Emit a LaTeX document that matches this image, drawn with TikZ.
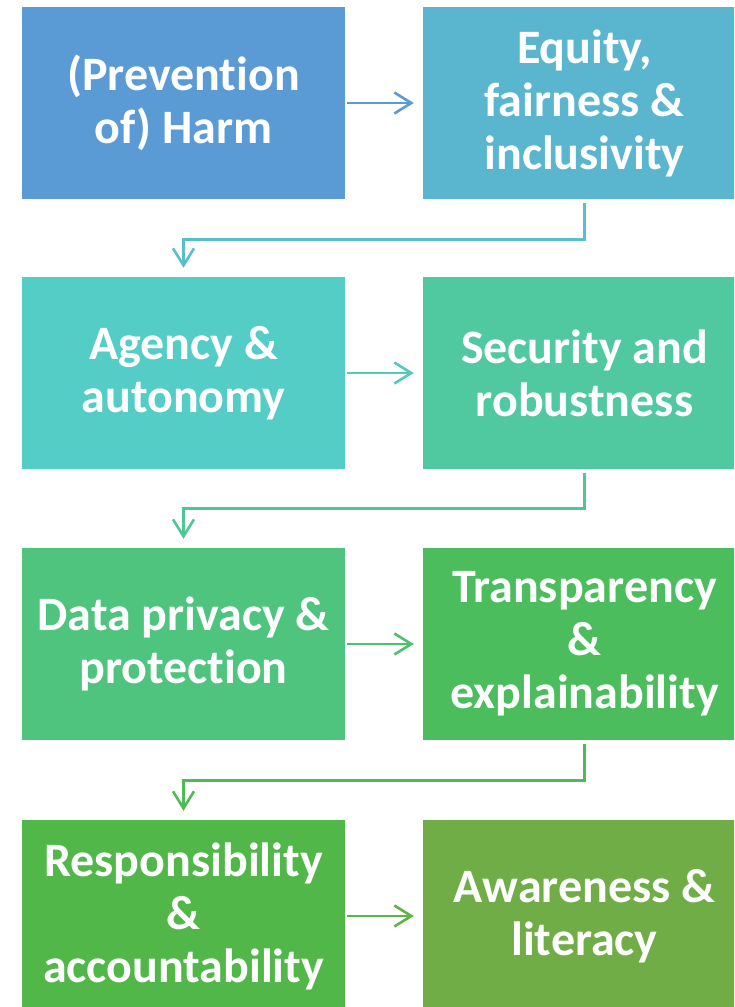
\documentclass[tikz,border=0pt]{standalone}
\usepackage{fontspec}
\setmainfont{Carlito}[RawFeature={-liga;-clig;-dlig;-calt}]
\usetikzlibrary{arrows.meta,calc}

\definecolor{cA}{HTML}{5B9BD5}
\definecolor{cB}{HTML}{5AB6CF}
\definecolor{cC}{HTML}{54CDC6}
\definecolor{cD}{HTML}{50C8A0}
\definecolor{cE}{HTML}{4EC47F}
\definecolor{cF}{HTML}{4CBD5C}
\definecolor{cG}{HTML}{52B749}
\definecolor{cH}{HTML}{70AD47}

\tikzset{
  card/.style={fill=#1, draw=none, minimum width=323pt, minimum height=192pt,
    inner sep=0pt, text=white, align=center,
    font=\fontsize{48}{53}\selectfont\bfseries},
  flow/.style={draw=#1, line width=2.6pt,
    -{Straight Barb[length=17pt,width=21pt,line width=2.6pt]}},
}

\begin{document}
\begin{tikzpicture}[x=1pt,y=-1pt]
\useasboundingbox (0,0) rectangle (734,1007);
\clip (0,0) rectangle (734,1007);

% left column centred at x=183.5, right column at x=584.5
\node[card=cA] (l1) at (183.5,103) {(Prevention\\of) Harm};
\node[card=cB] (r1) at (584.5,103) {Equity,\\fairness \&\\inclusivity};
\node[card=cC] (l2) at (183.5,373) {Agency \&\\autonomy};
\node[card=cD] (r2) at (584.5,373) {Security and\\robustness};
\node[card=cE] (l3) at (183.5,644) {Data privacy \&\\protection};
\node[card=cF] (r3) at (584.5,644) {Transparency\\\&\\explainability};
\node[card=cG] (l4) at (183.5,916) {Responsibility\\\&\\accountability};
\node[card=cH] (r4) at (584.5,916) {Awareness \&\\literacy};

% arrows within each row
\draw[flow=cA, shorten <=2pt, shorten >=9pt] (l1.east) -- (r1.west);
\draw[flow=cC!70!cD, shorten <=2pt, shorten >=9pt] (l2.east) -- (r2.west);
\draw[flow=cE!60!cF, shorten <=2pt, shorten >=9pt] (l3.east) -- (r3.west);
\draw[flow=cG!50!cH, shorten <=2pt, shorten >=9pt] (l4.east) -- (r4.west);

% elbow connectors from one row to the next
\draw[flow=cB!60!cC, shorten <=4pt, shorten >=9pt] (r1.south) -- ++(0,40) -| (l2.north);
\draw[flow=cD!60!cE, shorten <=4pt, shorten >=9pt] (r2.south) -- ++(0,39) -| (l3.north);
\draw[flow=cF!70!cG, shorten <=4pt, shorten >=9pt] (r3.south) -- ++(0,40) -| (l4.north);
\end{tikzpicture}
\end{document}
